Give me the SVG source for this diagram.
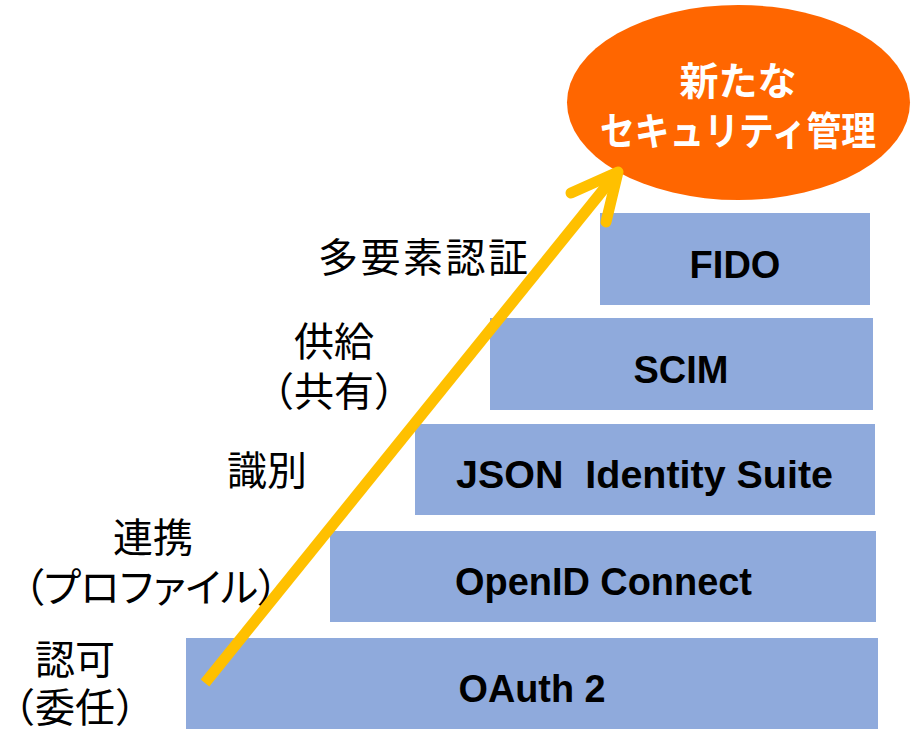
<svg xmlns="http://www.w3.org/2000/svg" width="912" height="729" viewBox="0 0 912 729">
  <style>
    .bar { fill: #8faadc; }
    .std { font-family: "Liberation Sans", "Noto Sans CJK JP", sans-serif; font-weight: bold; font-size: 38px; fill: #000; text-anchor: middle; }
    .lbl { font-family: "Noto Sans CJK JP", sans-serif; font-size: 40px; fill: #000; text-anchor: middle; }
    .goal { font-family: "Noto Sans CJK JP", sans-serif; font-weight: bold; font-size: 39px; fill: #fff; text-anchor: middle; }
    .arrow { fill: none; stroke: #ffc000; stroke-width: 11; }
  </style>

  <rect width="912" height="729" fill="#fff"/>

  <!-- goal bubble -->
  <g id="goal">
    <ellipse cx="738.5" cy="102.5" rx="171.5" ry="97.5" fill="#ff6600"/>
    <text class="goal" x="738" y="95">新たな</text>
    <text class="goal" x="738" y="145" textLength="276" lengthAdjust="spacingAndGlyphs">セキュリティ管理</text>
  </g>

  <!-- standard steps -->
  <g id="fido">
    <rect class="bar" x="600" y="213" width="270" height="92"/>
    <text class="std" x="735" y="277.5">FIDO</text>
  </g>
  <g id="scim">
    <rect class="bar" x="490" y="318" width="383" height="92"/>
    <text class="std" x="681" y="382.5">SCIM</text>
  </g>
  <g id="json">
    <rect class="bar" x="415" y="424" width="460" height="91"/>
    <text class="std" x="644.5" y="488" textLength="377" lengthAdjust="spacingAndGlyphs" xml:space="preserve">JSON  Identity Suite</text>
  </g>
  <g id="oidc">
    <rect class="bar" x="330" y="531" width="546" height="91"/>
    <text class="std" x="603.5" y="595" textLength="297" lengthAdjust="spacingAndGlyphs">OpenID Connect</text>
  </g>
  <g id="oauth">
    <rect class="bar" x="186" y="638" width="692" height="91"/>
    <text class="std" x="532" y="702" textLength="147" lengthAdjust="spacingAndGlyphs">OAuth 2</text>
  </g>

  <!-- step labels -->
  <g id="label-mfa">
    <text class="lbl" x="423" y="272" textLength="210">多要素認証</text>
  </g>
  <g id="label-provisioning">
    <text class="lbl" x="334" y="356">供給</text>
    <text class="lbl" x="334" y="406">（共有）</text>
  </g>
  <g id="label-identity">
    <text class="lbl" x="267" y="485">識別</text>
  </g>
  <g id="label-federation">
    <text class="lbl" x="153" y="552">連携</text>
    <text class="lbl" x="151" y="602" style="font-feature-settings: 'palt'">（プロファイル）</text>
  </g>
  <g id="label-authz">
    <text class="lbl" x="75" y="674">認可</text>
    <text class="lbl" x="75" y="722">（委任）</text>
  </g>

  <!-- rising arrow -->
  <g id="connectors">
    <line class="arrow" x1="205" y1="683" x2="616" y2="174"/>
    <polyline class="arrow" points="571,193 618,172 606,222" stroke-linecap="round" stroke-linejoin="round"/>
  </g>
</svg>
